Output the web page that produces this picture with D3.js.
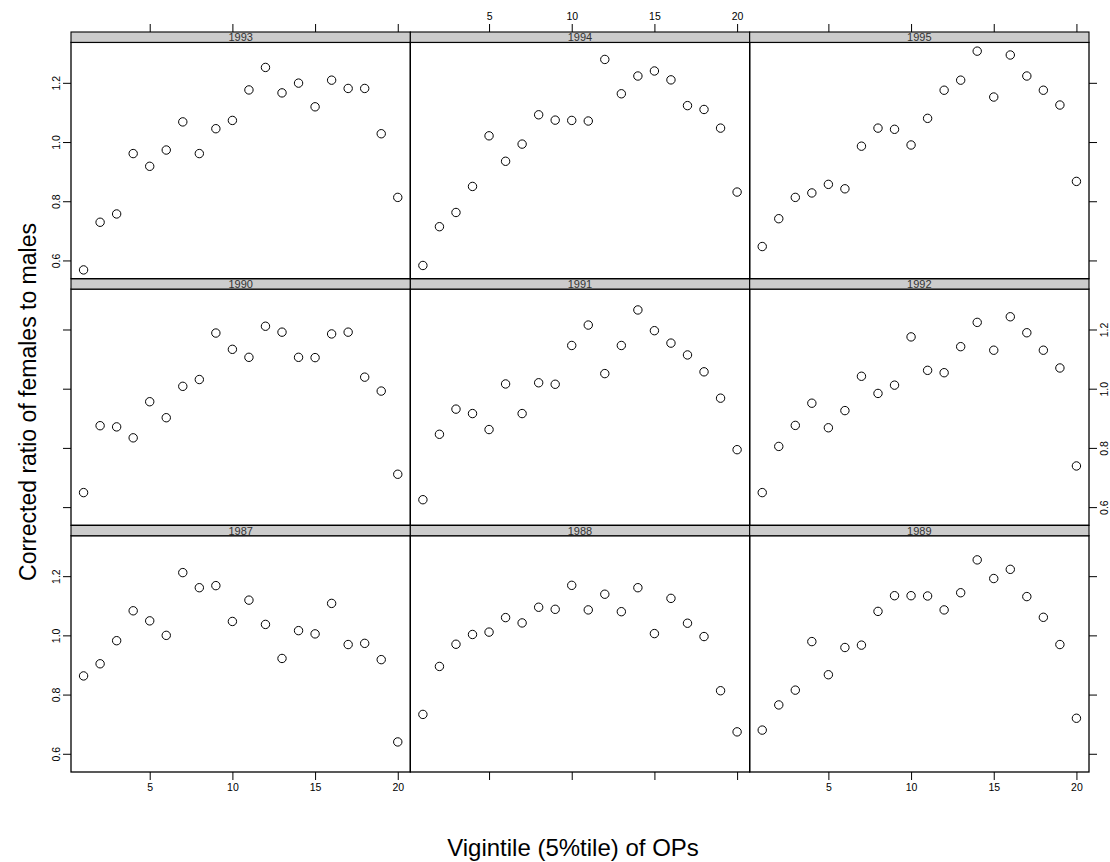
<!DOCTYPE html>
<html>
<head>
<meta charset="utf-8">
<script src="https://cdn.jsdelivr.net/npm/d3@7/dist/d3.min.js"></script>
<style>
body { margin: 0; background: #fff; }
svg { display: block; font-family: Arial, "Liberation Sans", Helvetica, sans-serif; }
</style>
</head>
<body>
<svg id="chart" width="1110" height="862"></svg>
<script>
var vigintiles = [1, 2, 3, 4, 5, 6, 7, 8, 9, 10, 11, 12, 13, 14, 15, 16, 17, 18, 19, 20];

// corrected ratio of females to males, one array per year
var r1987 = [0.863, 0.904, 0.982, 1.083, 1.049, 1.000, 1.212, 1.161, 1.168, 1.047, 1.119, 1.037, 0.922, 1.016, 1.005, 1.108, 0.969, 0.973, 0.918, 0.640];
var r1988 = [0.733, 0.895, 0.970, 1.003, 1.011, 1.060, 1.042, 1.095, 1.088, 1.169, 1.086, 1.139, 1.080, 1.161, 1.006, 1.125, 1.041, 0.996, 0.813, 0.674];
var r1989 = [0.680, 0.765, 0.815, 0.979, 0.867, 0.959, 0.967, 1.081, 1.134, 1.134, 1.133, 1.086, 1.144, 1.255, 1.192, 1.223, 1.131, 1.061, 0.969, 0.720];
var r1990 = [0.649, 0.875, 0.871, 0.834, 0.956, 0.902, 1.008, 1.031, 1.188, 1.133, 1.106, 1.211, 1.191, 1.106, 1.105, 1.185, 1.191, 1.039, 0.992, 0.711];
var r1991 = [0.625, 0.846, 0.931, 0.916, 0.862, 1.016, 0.916, 1.020, 1.015, 1.146, 1.215, 1.051, 1.146, 1.266, 1.196, 1.154, 1.114, 1.057, 0.968, 0.794];
var r1992 = [0.649, 0.805, 0.876, 0.951, 0.868, 0.926, 1.042, 0.984, 1.012, 1.175, 1.062, 1.054, 1.142, 1.224, 1.130, 1.243, 1.189, 1.130, 1.070, 0.739];
var r1993 = [0.568, 0.729, 0.757, 0.961, 0.918, 0.973, 1.068, 0.961, 1.045, 1.073, 1.176, 1.252, 1.166, 1.199, 1.119, 1.209, 1.181, 1.181, 1.028, 0.813];
var r1994 = [0.583, 0.714, 0.762, 0.850, 1.021, 0.935, 0.993, 1.092, 1.074, 1.073, 1.071, 1.279, 1.163, 1.223, 1.240, 1.210, 1.123, 1.110, 1.047, 0.831];
var r1995 = [0.647, 0.741, 0.813, 0.828, 0.857, 0.842, 0.986, 1.047, 1.043, 0.990, 1.080, 1.175, 1.209, 1.307, 1.152, 1.294, 1.223, 1.175, 1.125, 0.867];

var years = [1987, 1988, 1989, 1990, 1991, 1992, 1993, 1994, 1995];
var xTicks = [5, 10, 15, 20];
var yTicks = [0.6, 0.8, 1.0, 1.2];
var xTitle = "Vigintile (5%tile) of OPs";
var yTitle = "Corrected ratio of females to males";

var trellis = {
	series: [r1987, r1988, r1989, r1990, r1991, r1992, r1993, r1994, r1995],
	left: 71,
	right: 1089,
	top: 32,
	bottom: 772,
	strip: 10.4,
	cols: 3,
	rows: 3,
	tick: 8,

	init: function() {
		this.svg = d3.select("#chart");
		this.colW = (this.right - this.left) / this.cols;
		this.rowH = (this.bottom - this.top) / this.rows;

		// lattice style: pad data range by 4% on each side
		var xr = d3.extent(vigintiles), xp = (xr[1] - xr[0]) * 0.04;
		this.xDomain = [xr[0] - xp, xr[1] + xp];
		var all = d3.merge(this.series);
		var yr = d3.extent(all), yp = (yr[1] - yr[0]) * 0.04;
		this.yDomain = [yr[0] - yp, yr[1] + yp];

		var self = this;
		years.forEach(function(year, i) {
			self.panel(year, i);
		});
		this.titles();
	},

	panel: function(year, i) {
		var col = i % this.cols;
		var row = this.rows - 1 - Math.floor(i / this.cols); // from top
		var x0 = this.left + col * this.colW;
		var y0 = this.top + row * this.rowH;

		var x = d3.scaleLinear().domain(this.xDomain).range([x0, x0 + this.colW]);
		var y = d3.scaleLinear().domain(this.yDomain).range([y0 + this.rowH, y0 + this.strip]);

		var g = this.svg.append("g").attr("class", "panel");
		var data = this.series[i];

		g.selectAll("circle")
			.data(vigintiles)
			.enter()
			.append("circle")
			.attr("cx", function(d) { return x(d); })
			.attr("cy", function(d, j) { return y(data[j]); })
			.attr("r", 4.2)
			.attr("fill", "none")
			.attr("stroke", "#000")
			.attr("stroke-width", 1);

		g.append("rect")
			.attr("x", x0)
			.attr("y", y0 + this.strip)
			.attr("width", this.colW)
			.attr("height", this.rowH - this.strip)
			.attr("fill", "none")
			.attr("stroke", "#000")
			.attr("stroke-width", 1.3);

		// strip
		g.append("rect")
			.attr("x", x0)
			.attr("y", y0)
			.attr("width", this.colW)
			.attr("height", this.strip)
			.attr("fill", "#cccccc")
			.attr("stroke", "#000")
			.attr("stroke-width", 1.1);
		g.append("text")
			.attr("x", x0 + this.colW / 2)
			.attr("y", y0 + this.strip - 1)
			.attr("text-anchor", "middle")
			.attr("font-size", "11px")
			.attr("fill", "#333")
			.text(year);

		// axes, alternating labels like lattice
		if (row === 0) this.xAxis(g, d3.axisTop(x), y0, col === 1);
		if (row === this.rows - 1) this.xAxis(g, d3.axisBottom(x), this.bottom, col !== 1);
		if (col === 0) this.yAxis(g, d3.axisLeft(y), x0, row !== 1, -11);
		if (col === this.cols - 1) this.yAxis(g, d3.axisRight(y), x0 + this.colW, row === 1, 19);
	},

	xAxis: function(g, axis, pos, labels) {
		axis.tickValues(xTicks).tickSize(this.tick).tickSizeOuter(0).tickPadding(4);
		if (!labels) axis.tickFormat("");
		var a = g.append("g").attr("transform", "translate(0," + pos + ")").call(axis);
		this.style(a);
	},

	yAxis: function(g, axis, pos, labels, off) {
		axis.tickValues(yTicks).tickSize(this.tick).tickSizeOuter(0).tickFormat(d3.format(".1f"));
		if (!labels) axis.tickFormat("");
		var a = g.append("g").attr("transform", "translate(" + pos + ",0)").call(axis);
		this.style(a);
		a.selectAll(".tick text")
			.attr("x", null)
			.attr("dy", null)
			.attr("text-anchor", "middle")
			.attr("transform", "translate(" + off + ",0) rotate(-90)");
	},

	style: function(a) {
		a.select(".domain").remove();
		a.attr("font-family", null).attr("font-size", null);
		a.selectAll(".tick line").attr("stroke", "#000").attr("stroke-width", 1);
		a.selectAll(".tick text").attr("fill", "#000").attr("font-size", "10.5px");
	},

	titles: function() {
		this.svg.append("text")
			.attr("x", 573)
			.attr("y", 856)
			.attr("text-anchor", "middle")
			.attr("font-size", "24px")
			.attr("fill", "#000")
			.text(xTitle);
		this.svg.append("text")
			.attr("transform", "translate(36," + ((this.top + this.bottom) / 2) + ") rotate(-90)")
			.attr("text-anchor", "middle")
			.attr("font-size", "23px")
			.attr("fill", "#000")
			.text(yTitle);
	}
};

trellis.init();
</script>
</body>
</html>
